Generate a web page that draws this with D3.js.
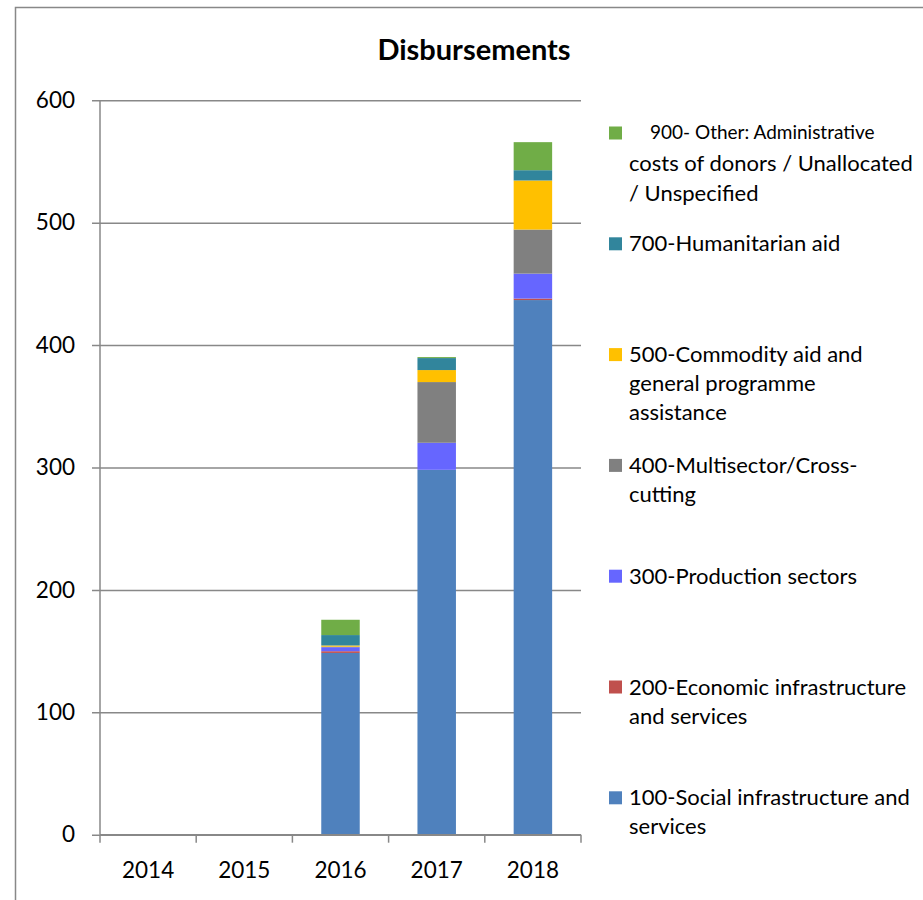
<!DOCTYPE html>
<html>
<head>
<meta charset="utf-8">
<script src="https://cdn.jsdelivr.net/npm/d3@7/dist/d3.min.js"></script>
<style>
  html, body { margin: 0; padding: 0; background: #fff; }
  svg { display: block; font-family: Lato, "Noto Sans", sans-serif; }
</style>
</head>
<body>
<svg id="chart" width="923" height="900"></svg>
<script>
// ---- data ----
const years = ["2014", "2015", "2016", "2017", "2018"];
const seriesKeys = ["s100", "s200", "s300", "s400", "s500", "s700", "s900"];
const s100 = [0, 0, 148.5, 298.1, 436.8];
const s200 = [0, 0, 1.4, 0, 1.2];
const s300 = [0, 0, 3.3, 22.1, 20.4];
const s400 = [0, 0, 0.4, 49.6, 36.0];
const s500 = [0, 0, 1.0, 9.8, 40.1];
const s700 = [0, 0, 8.5, 9.8, 8.4];
const s900 = [0, 0, 12.5, 0.8, 22.9];
const yTicks = [0, 100, 200, 300, 400, 500, 600];
const seriesColors = ["#4F81BD", "#C0504D", "#6666FF", "#808080", "#FFC000", "#31859C", "#70AD47"];
// legend (top to bottom), each item's lines
const legendKeys = ["s900", "s700", "s500", "s400", "s300", "s200", "s100"];
const legendLines = [
  ["900- Other: Administrative", "costs of donors / Unallocated", "/ Unspecified"],
  ["700-Humanitarian aid"],
  ["500-Commodity aid and", "general programme", "assistance"],
  ["400-Multisector/Cross-", "cutting"],
  ["300-Production sectors"],
  ["200-Economic infrastructure", "and services"],
  ["100-Social infrastructure and", "services"]
];
const titleText = "Disbursements";

// ---- build table ----
const seriesVals = { s100, s200, s300, s400, s500, s700, s900 };
const table = years.map((y, i) => {
  const row = { year: y };
  seriesKeys.forEach(k => row[k] = seriesVals[k][i]);
  return row;
});
const color = d3.scaleOrdinal().domain(seriesKeys).range(seriesColors);

const svg = d3.select("#chart");
const gridColor = "#888888";

// outer frame
svg.append("rect").attr("x", 15.5).attr("y", 7.5).attr("width", 1000).attr("height", 1000)
  .attr("fill", "none").attr("stroke", gridColor).attr("stroke-width", 1.5);

// title
svg.append("text").attr("x", 474).attr("y", 60).attr("text-anchor", "middle")
  .attr("font-weight", "bold").attr("font-size", 29).attr("fill", "#000").text(titleText);

const x = d3.scaleBand().domain(years).range([100, 581]).paddingInner(0.6).paddingOuter(0.3);
const xOuter = d3.scaleBand().domain(years).range([100, 581]);
const y = d3.scaleLinear().domain([0, 600]).range([834.7, 100.3]);

// gridlines + y axis
const yAxis = d3.axisLeft(y).tickValues(yTicks).tickSize(-(581 - 92)).tickSizeOuter(0).tickPadding(17);
const gy = svg.append("g").attr("transform", "translate(92,0)").call(yAxis);
gy.select(".domain").remove();
gy.selectAll(".tick line").attr("stroke", gridColor).attr("stroke-width", 1.5);
gy.selectAll(".tick text").attr("font-size", 22.5).attr("fill", "#000").attr("font-family", "Lato, sans-serif");
// vertical axis line
svg.append("line").attr("x1", 100).attr("x2", 100).attr("y1", y(600)).attr("y2", y(0))
  .attr("stroke", gridColor).attr("stroke-width", 1.5);

// stacked bars
const stack = d3.stack().keys(seriesKeys);
const stacked = stack(table);
svg.append("g").selectAll("g").data(stacked).join("g")
  .attr("fill", d => color(d.key))
  .selectAll("rect").data(d => d).join("rect")
  .attr("x", d => x(d.data.year))
  .attr("width", x.bandwidth())
  .attr("y", d => y(d[1]))
  .attr("height", d => Math.max(0, y(d[0]) - y(d[1])));

// x axis
const xAxisLine = svg.append("g").attr("transform", `translate(0,${y(0)})`);
xAxisLine.append("line").attr("x1", 100).attr("x2", 581).attr("stroke", gridColor).attr("stroke-width", 1.5);
const xTickPos = years.map(yr => xOuter(yr)).concat([581]);
xAxisLine.selectAll("line.tk").data(xTickPos).join("line").attr("class", "tk")
  .attr("x1", d => d).attr("x2", d => d).attr("y1", 0).attr("y2", 8)
  .attr("stroke", gridColor).attr("stroke-width", 1.5);
xAxisLine.selectAll("text").data(years).join("text")
  .attr("x", d => xOuter(d) + xOuter.bandwidth() / 2)
  .attr("y", 43).attr("text-anchor", "middle").attr("font-size", 22.5).attr("fill", "#000")
  .text(d => d);

// legend
const lg = svg.append("g");
const legTop = 133, legStep = 110.8, lineH = 29;
legendKeys.forEach((k, i) => {
  const cy = legTop + i * legStep;
  lg.append("rect").attr("x", 609).attr("y", cy - 6.5).attr("width", 13).attr("height", 13).attr("fill", color(k));
  legendLines[i].forEach((ln, j) => {
    const small = (k === "s900" && j === 0);
    let ty;
    if (k === "s900") ty = j === 0 ? cy + 6 : cy + 37.5 + (j - 1) * 30.5;
    else ty = cy + 7.5 + j * lineH;
    lg.append("text").attr("x", small ? 650 : 629).attr("y", ty)
      .attr("font-size", small ? 19 : 22).attr("fill", "#000").text(ln);
  });
});
</script>
</body>
</html>
